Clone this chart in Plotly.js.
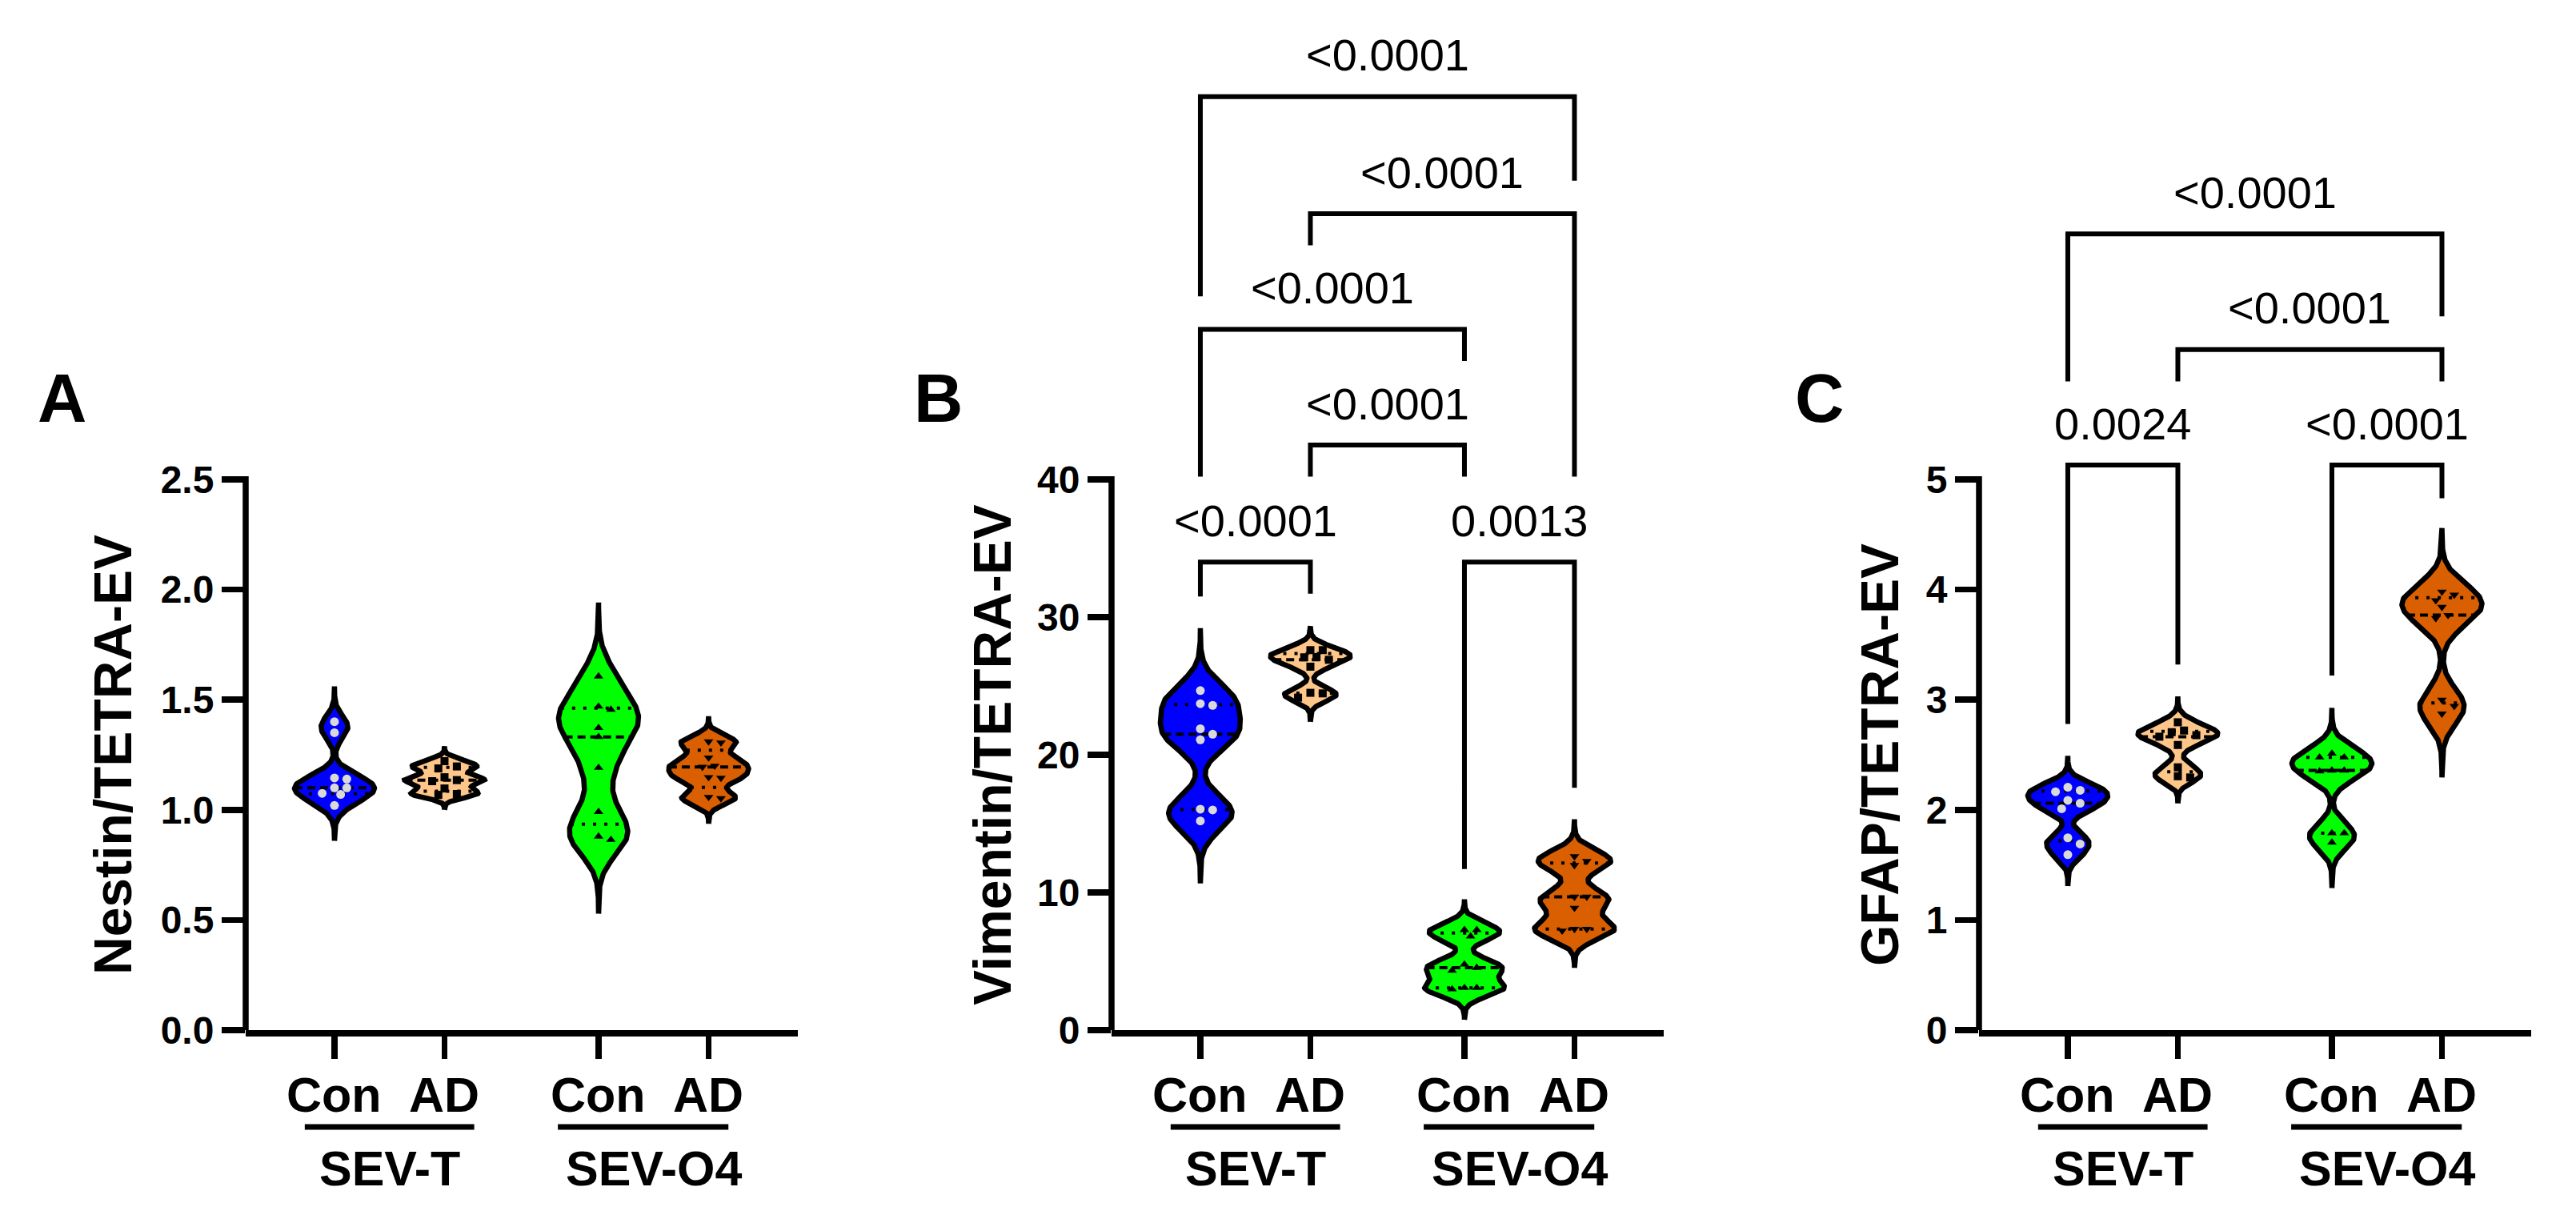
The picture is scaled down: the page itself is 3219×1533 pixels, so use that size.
<!DOCTYPE html>
<html><head><meta charset="utf-8">
<script src="https://cdn.plot.ly/plotly-3.0.1.min.js"></script>
<style>html,body{margin:0;padding:0;background:#fff}</style>
</head><body>
<div id="chart" style="width:3219px;height:1533px"></div>
<script>
// ---------------- data ----------------
const categories = ['Con', 'AD', 'Con', 'AD'];
const groupLabels = ['SEV-T', 'SEV-O4'];
const panelLetters = ['A', 'B', 'C'];
const yTitles = ['Nestin/TETRA-EV', 'Vimentin/TETRA-EV', 'GFAP/TETRA-EV'];

const nestinConT  = [1.40, 1.35, 1.145, 1.14, 1.10, 1.10, 1.075, 1.07, 1.02];
const nestinADT   = [1.221, 1.197, 1.188, 1.148, 1.135, 1.130, 1.097, 1.072, 1.068];
const nestinConO4 = [1.606, 1.469, 1.455, 1.372, 1.331, 1.191, 0.991, 0.879, 0.864];
const nestinADO4  = [1.31, 1.305, 1.237, 1.20, 1.195, 1.148, 1.145, 1.058, 1.052];

const vimentinConT  = [24.66, 23.71, 23.59, 21.89, 21.49, 21.09, 16.05, 15.99, 15.19];
const vimentinADT   = [27.6, 27.6, 27.1, 27.08, 26.9, 26.4, 24.5, 24.46, 24.15];
const vimentinConO4 = [7.28, 7.28, 6.81, 4.77, 4.53, 4.33, 3.07, 3.07, 2.97];
const vimentinADO4  = [12.62, 12.28, 11.98, 9.68, 9.68, 8.88, 7.34, 7.34, 7.22];

const gfapConT  = [2.205, 2.177, 2.164, 2.086, 2.06, 2.01, 1.746, 1.69, 1.593];
const gfapADT   = [2.795, 2.72, 2.705, 2.678, 2.664, 2.589, 2.386, 2.305, 2.294];
const gfapConO4 = [2.511, 2.477, 2.477, 2.358, 2.358, 2.35, 1.788, 1.788, 1.704];
const gfapADO4  = [3.98, 3.952, 3.902, 3.841, 3.768, 3.74, 2.998, 2.942, 2.873];

const nestinTicks   = [0, 0.5, 1.0, 1.5, 2.0, 2.5];
const vimentinTicks = [0, 10, 20, 30, 40];
const gfapTicks     = [0, 1, 2, 3, 4, 5];

// comparisons: [group i, group j], bracket level, leg ends, p value
const nestinPairs = [];
const nestinLevels = [];
const nestinLegs = [];
const nestinP = [];

const vimentinPairs  = [[0,1],[2,3],[1,2],[0,2],[1,3],[0,3]];
const vimentinLevels = [34.0, 34.0, 42.5, 50.9, 59.3, 67.8];
const vimentinLegs   = [[31.5,31.7],[11.7,17.6],[40.2,40.2],[40.2,48.6],[57.0,40.2],[53.3,61.7]];
const vimentinP      = ['<0.0001','0.0013','<0.0001','<0.0001','<0.0001','<0.0001'];

const gfapPairs  = [[0,1],[2,3],[1,3],[0,3]];
const gfapLevels = [5.13, 5.13, 6.18, 7.23];
const gfapLegs   = [[2.78,3.32],[3.22,4.83],[5.89,5.89],[5.89,6.48]];
const gfapP      = ['0.0024','<0.0001','<0.0001','<0.0001'];

// ---------------- layout / style ----------------
const W = 3219, H = 1533;
const FONT = 'Liberation Sans, Arial, Helvetica, sans-serif';
const axisLeft = [307, 1389, 2473];
const axisLen = 690;
const plotBottom = 1287, topTickPx = 599, domTopPx = 70;
const catX = [0, 1, 2.4, 3.4];
const xRange = [-0.807, 4.211];
const pxPerX = axisLen / (xRange[1] - xRange[0]);
const halfW = 50 / pxPerX;
const fills = ['#0000FF', '#FFC68A', '#00FF00', '#DA5F00'];
const symbols = ['circle', 'square', 'triangle-up', 'triangle-down'];
const mcolors = ['#D9D9D9', '#000000', '#000000', '#000000'];
const msizes = [11, 10, 10.5, 10.5];

const panels = [
  {data: [nestinConT, nestinADT, nestinConO4, nestinADO4], ticks: nestinTicks, fmt: v => v.toFixed(1),
   pairs: nestinPairs, levels: nestinLevels, legs: nestinLegs, p: nestinP},
  {data: [vimentinConT, vimentinADT, vimentinConO4, vimentinADO4], ticks: vimentinTicks, fmt: v => String(v),
   pairs: vimentinPairs, levels: vimentinLevels, legs: vimentinLegs, p: vimentinP},
  {data: [gfapConT, gfapADT, gfapConO4, gfapADO4], ticks: gfapTicks, fmt: v => String(v),
   pairs: gfapPairs, levels: gfapLevels, legs: gfapLegs, p: gfapP}
];

function mean(a){return a.reduce((s,v)=>s+v,0)/a.length;}
function sd(a){const m=mean(a);return Math.sqrt(a.reduce((s,v)=>s+(v-m)*(v-m),0)/(a.length-1));}
function dens(a,h,y){let s=0;for(const d of a){const z=(y-d)/h;s+=Math.exp(-0.5*z*z);}return s;}
function quant(a,p){const s=[...a].sort((x,y)=>x-y);const n=s.length;let pos=(n+1)*p;
  if(pos<1)pos=1;if(pos>n)pos=n;const lo=Math.floor(pos),f=pos-lo;
  return lo>=n?s[n-1]:s[lo-1]+f*(s[lo]-s[lo-1]);}
function swarm(vals,pxY,d){
  const order=vals.map((v,i)=>i).sort((a,b)=>vals[b]-vals[a]);
  const placed=[];const off=new Array(vals.length).fill(0);
  const cands=[0];for(let k=1;k<=10;k++){cands.push(k*d*0.7,-k*d*0.7);}
  for(const i of order){const y=vals[i]*pxY;
    for(const c of cands){if(placed.every(p=>Math.hypot(p.x-c,p.y-y)>=d)){off[i]=c/pxPerX;placed.push({x:c,y:y});break;}}}
  return off;
}
const px2fx = x => x / W;
const px2fy = y => 1 - y / H;

const traces = [], shapes = [], annotations = [];
const layout = {width: W, height: H, margin: {l:0, r:0, t:0, b:0}, paper_bgcolor: '#fff', plot_bgcolor: 'rgba(0,0,0,0)',
  showlegend: false, font: {family: FONT, color: '#000'}};

panels.forEach((P, pi) => {
  const sfx = pi === 0 ? '' : String(pi + 1);
  const xa = 'x' + sfx, ya = 'y' + sfx;
  const topTick = P.ticks[P.ticks.length - 1];
  const pxPerY = (plotBottom - topTickPx) / topTick;
  const yMax = (plotBottom - domTopPx) / pxPerY;

  layout['xaxis' + sfx] = {domain: [px2fx(axisLeft[pi]), px2fx(axisLeft[pi] + axisLen)], range: xRange, anchor: ya,
    showline: true, linewidth: 8, linecolor: '#000', ticks: 'outside', tickvals: catX, ticklen: 28, tickwidth: 7.5,
    tickcolor: '#000', showticklabels: false, showgrid: false, zeroline: false, fixedrange: true};
  layout['yaxis' + sfx] = {domain: [px2fy(plotBottom), px2fy(domTopPx)], range: [0, yMax], anchor: xa,
    showline: false, ticks: 'outside', tickvals: P.ticks, ticktext: P.ticks.map(P.fmt), ticklen: 29, tickwidth: 7.5,
    tickcolor: '#000', tickfont: {family: FONT, size: 48, weight: 'bold', color: '#000'},
    showgrid: false, zeroline: false, fixedrange: true};

  // visible y axis line only up to the top tick
  shapes.push({type: 'line', xref: 'paper', yref: ya, x0: px2fx(axisLeft[pi]), x1: px2fx(axisLeft[pi]),
    y0: -4 / pxPerY, y1: topTick + 4 / pxPerY, line: {color: '#000', width: 7.5}});

  P.data.forEach((vals, gi) => {
    const cx = catX[gi];
    const s = sd(vals), h = 0.33 * s, ext = 1.23 * s;
    const lo = Math.min(...vals) - ext, hi = Math.max(...vals) + ext;
    const N = 300, ys = [], ds = [];
    for (let i = 0; i <= N; i++) { const y = lo + (hi - lo) * i / N; ys.push(y); ds.push(dens(vals, h, y)); }
    const mx = Math.max(...ds);
    const vx = [], vy = [];
    for (let i = 0; i <= N; i++) { vx.push(cx + halfW * ds[i] / mx); vy.push(ys[i]); }
    for (let i = N; i >= 0; i--) { vx.push(cx - halfW * ds[i] / mx); vy.push(ys[i]); }
    traces.push({type: 'scatter', mode: 'lines', x: vx, y: vy, xaxis: xa, yaxis: ya, fill: 'toself',
      fillcolor: fills[gi], line: {color: '#000', width: 6.5}, hoverinfo: 'skip'});
    // quartile lines
    [[0.25, 'dot'], [0.5, 'dash'], [0.75, 'dot']].forEach(([p, st]) => {
      const q = quant(vals, p);
      const w = halfW * dens(vals, h, q) / mx;
      traces.push({type: 'scatter', mode: 'lines', x: [cx - w, cx + w], y: [q, q], xaxis: xa, yaxis: ya,
        line: {color: '#000', width: 4, dash: st === 'dot' ? '4px,10px' : '10px,6px'}, hoverinfo: 'skip'});
    });
    // points
    const off = swarm(vals, pxPerY, 11);
    traces.push({type: 'scatter', mode: 'markers', x: vals.map((v, i) => cx + off[i]), y: vals, xaxis: xa, yaxis: ya,
      marker: {symbol: symbols[gi], color: mcolors[gi], size: msizes[gi], line: {width: 0}}, hoverinfo: 'skip'});
    // category label
    annotations.push({xref: xa, yref: 'paper', x: cx, y: px2fy(1368), text: categories[gi], showarrow: false,
      xanchor: 'center', yanchor: 'middle', font: {family: FONT, size: 61, weight: 'bold', color: '#000'}});
  });

  // group labels + underlines
  [[0, 1, -0.27, 0.27], [2, 3, -0.37, 0.18]].forEach(([a, b, dl, dr], k) => {
    shapes.push({type: 'line', xref: xa, yref: 'paper', x0: catX[a] + dl, x1: catX[b] + dr,
      y0: px2fy(1408), y1: px2fy(1408), line: {color: '#000', width: 7}});
    annotations.push({xref: xa, yref: 'paper', x: (catX[a] + catX[b]) / 2, y: px2fy(1460), text: groupLabels[k],
      showarrow: false, xanchor: 'center', yanchor: 'middle', font: {family: FONT, size: 61, weight: 'bold', color: '#000'}});
  });

  // significance brackets
  P.pairs.forEach((pr, k) => {
    const x0 = catX[pr[0]], x1 = catX[pr[1]], lv = P.levels[k];
    traces.push({type: 'scatter', mode: 'lines', x: [x0, x0, x1, x1], y: [P.legs[k][0], lv, lv, P.legs[k][1]],
      xaxis: xa, yaxis: ya, line: {color: '#000', width: 6}, hoverinfo: 'skip'});
    annotations.push({xref: xa, yref: ya, x: (x0 + x1) / 2, y: lv, yshift: 52, text: P.p[k], showarrow: false,
      xanchor: 'center', yanchor: 'middle', font: {family: FONT, size: 56, color: '#000'}});
  });

  // y title and panel letter
  const titleX = [141, 1240, 2349][pi];
  annotations.push({xref: 'paper', yref: 'paper', x: px2fx(titleX), y: px2fy((topTickPx + plotBottom) / 2),
    text: yTitles[pi], textangle: -90, showarrow: false, xanchor: 'center', yanchor: 'middle',
    font: {family: FONT, size: 66, weight: 'bold', color: '#000'}});
  const letterX = [77, 1172, 2273][pi];
  annotations.push({xref: 'paper', yref: 'paper', x: px2fx(letterX), y: px2fy(497), text: panelLetters[pi],
    showarrow: false, xanchor: 'center', yanchor: 'middle', font: {family: FONT, size: 85, weight: 'bold', color: '#000'}});
});

layout.shapes = shapes;
layout.annotations = annotations;
Plotly.newPlot('chart', traces, layout, {displayModeBar: false, staticPlot: true});
</script>
</body></html>
